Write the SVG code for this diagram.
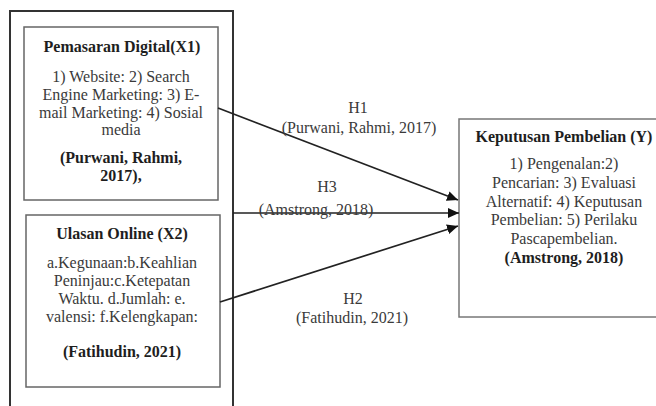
<svg xmlns="http://www.w3.org/2000/svg" width="656" height="406" viewBox="0 0 656 406">
<style>
text{font-family:"Liberation Serif","Times New Roman",serif;font-size:16px;text-anchor:middle;fill:#3a3a3a}
.b{font-weight:bold;fill:#1e1e1e}
.box{fill:#fff;stroke:#666;stroke-width:1.5}
.outer{fill:none;stroke:#333;stroke-width:2}
.con{stroke:#222;stroke-width:1.7;fill:none}
</style>
<defs>
<marker id="ah" markerUnits="userSpaceOnUse" markerWidth="12" markerHeight="10" refX="11" refY="5" orient="auto">
<path d="M0,0 L11,5 L0,10 Z" fill="#111"/>
</marker>
</defs>
<rect width="656" height="406" fill="#fff"/>
<g id="outer-frame">
<path class="outer" d="M10,412 V11 H233 V412"/>
</g>
<g id="x1">
<rect class="box" x="24" y="27" width="194" height="173"/>
<text class="b" x="122" y="52">Pemasaran Digital(X1)</text>
<text x="121" y="82">1) Website: 2) Search</text>
<text x="121" y="100">Engine Marketing: 3) E-</text>
<text x="121" y="118">mail Marketing: 4) Sosial</text>
<text x="121" y="135">media</text>
<text class="b" x="121" y="163">(Purwani, Rahmi,</text>
<text class="b" x="121" y="181">2017),</text>
</g>
<g id="x2">
<rect class="box" x="26" y="215" width="194" height="172"/>
<text class="b" x="122" y="239">Ulasan Online (X2)</text>
<text x="122" y="268">a.Kegunaan:b.Keahlian</text>
<text x="122" y="286">Peninjau:c.Ketepatan</text>
<text x="122" y="304">Waktu. d.Jumlah: e.</text>
<text x="122" y="322">valensi: f.Kelengkapan:</text>
<text class="b" x="122" y="357">(Fatihudin, 2021)</text>
</g>
<g id="y">
<rect class="box" x="459" y="119" width="200" height="198" style="stroke:#777"/>
<text class="b" x="564" y="142">Keputusan Pembelian (Y)</text>
<text x="564" y="169">1) Pengenalan:2)</text>
<text x="564" y="188">Pencarian: 3) Evaluasi</text>
<text x="564" y="206.5">Alternatif: 4) Keputusan</text>
<text x="564" y="225">Pembelian: 5) Perilaku</text>
<text x="564" y="244">Pascapembelian.</text>
<text class="b" x="564" y="263">(Amstrong, 2018)</text>
</g>
<g id="connectors">
<line class="con" x1="218" y1="108" x2="458" y2="200" marker-end="url(#ah)"/>
<line class="con" x1="233" y1="213" x2="459" y2="213" marker-end="url(#ah)"/>
<line class="con" x1="220" y1="302" x2="458" y2="226" marker-end="url(#ah)"/>
<text x="358" y="113">H1</text>
<text x="359" y="133">(Purwani, Rahmi, 2017)</text>
<text x="327" y="192">H3</text>
<text x="316" y="215">(Amstrong, 2018)</text>
<text x="353" y="304">H2</text>
<text x="352" y="323">(Fatihudin, 2021)</text>
</g>
</svg>
